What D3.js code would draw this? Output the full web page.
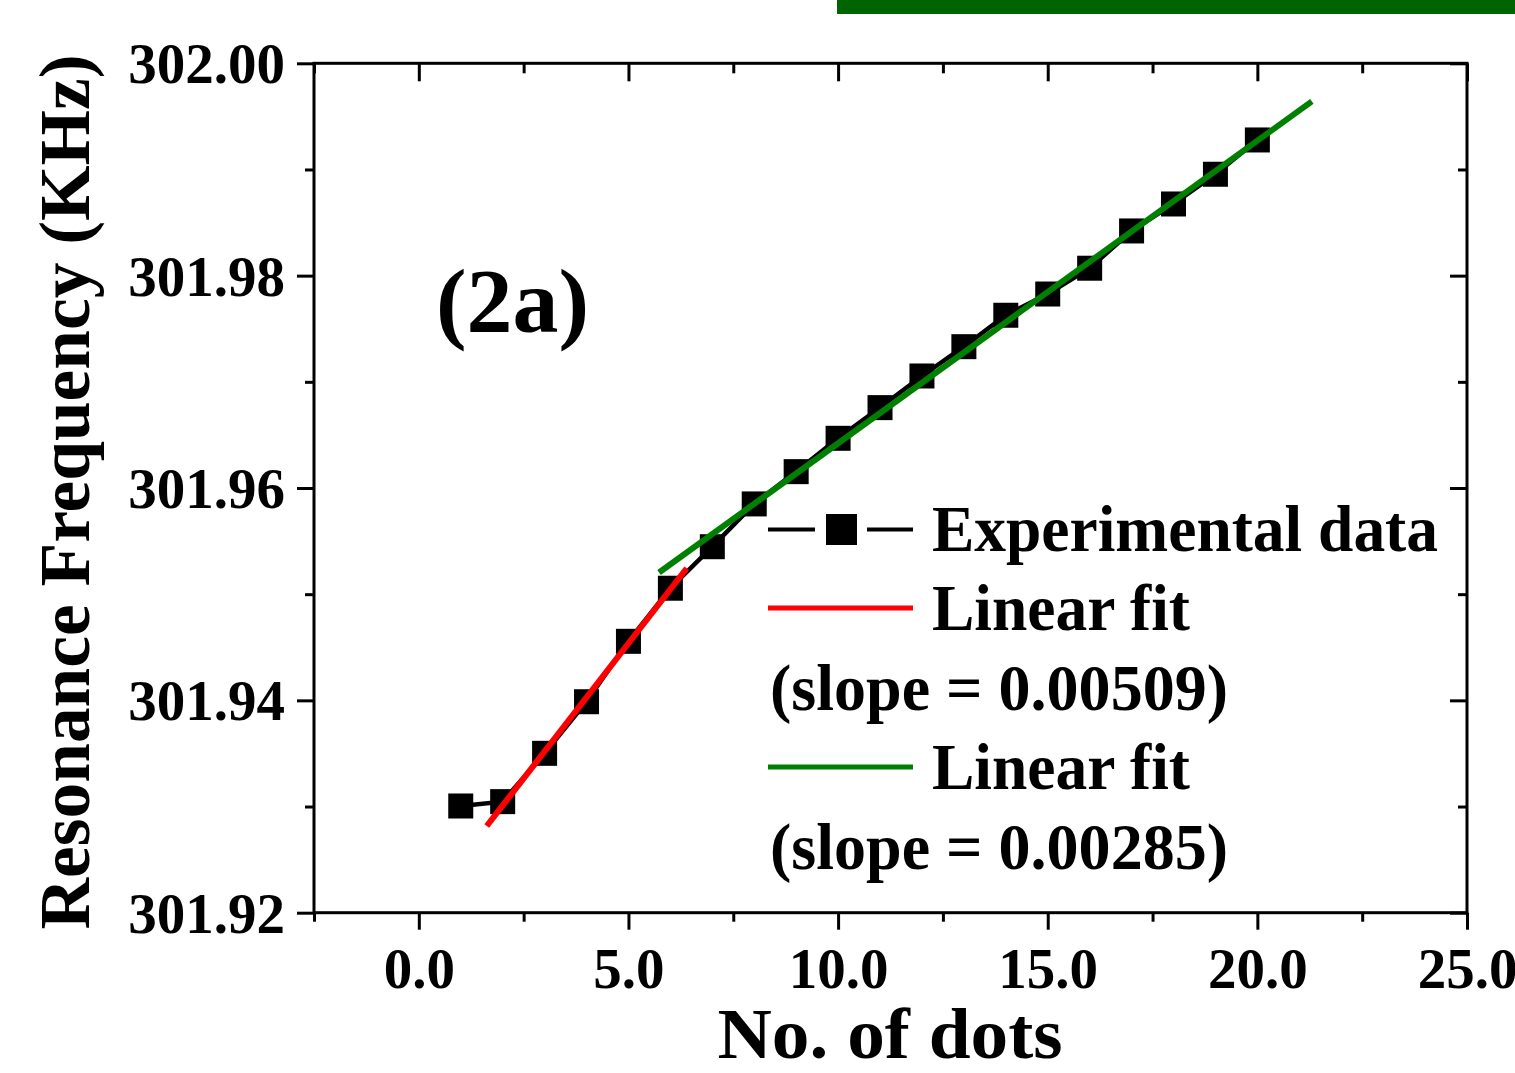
<!DOCTYPE html>
<html>
<head>
<meta charset="utf-8">
<script src="https://cdn.jsdelivr.net/npm/d3@7"></script>
<style>
  html, body { margin: 0; padding: 0; background: #fff; }
  svg { display: block; }
  text { font-family: "Liberation Serif", "Times New Roman", serif; font-weight: bold; fill: #000; }
</style>
</head>
<body>
<svg id="chart" width="1515" height="1073"></svg>
<script>
// ---- data ----
const dots = [1,2,3,4,5,6,7,8,9,10,11,12,13,14,15,16,17,18,19,20];
const freq = [301.93005,301.93046,301.93501,301.93987,301.94556,301.95056,301.95447,301.95850,
              301.96154,301.96468,301.96757,301.97055,301.97331,301.97627,301.97827,301.98070,
              301.98421,301.98675,301.98955,301.99278];
const fit1 = { slope: 0.00509, intercept: 301.91992, x0: 1.62, x1: 6.39 };
const fit2 = { slope: 0.00285, intercept: 301.93571, x0: 5.73, x1: 21.30 };
const xMajor = [0,5,10,15,20,25];
const xMinor = [-2.5,2.5,7.5,12.5,17.5,22.5];
const yMajor = [301.92,301.94,301.96,301.98,302.00];
const yMinor = [301.93,301.95,301.97,301.99];
const legendLabels = ["Experimental data","Linear fit","(slope = 0.00509)","Linear fit","(slope = 0.00285)"];

const svg = d3.select("#chart");
const L = 314, R = 1467, T = 63.3, B = 912.7;
const x = d3.scaleLinear().domain([-2.5, 25]).range([L, R]);
const y = d3.scaleLinear().domain([301.92, 302.00]).range([B, T]);

// decorative top bar
svg.append("rect").attr("x", 837).attr("y", 0).attr("width", 678).attr("height", 14).attr("fill", "#006400");

function styleAxis(g) {
  g.select(".domain").remove();
  g.selectAll(".tick line").attr("stroke", "#000").attr("stroke-width", 3);
}

// bottom axis: major + minor outward
const gxB = svg.append("g").attr("transform", `translate(0,${B})`)
  .call(d3.axisBottom(x).tickValues(xMajor).tickSize(17).tickPadding(18).tickFormat(d3.format(".1f")));
styleAxis(gxB);
gxB.selectAll(".tick text").attr("font-size", 57).attr("dy", "0.70em");
const gxBm = svg.append("g").attr("transform", `translate(0,${B})`)
  .call(d3.axisBottom(x).tickValues(xMinor).tickSize(9).tickFormat(""));
styleAxis(gxBm);

// top axis inward
const gxT = svg.append("g").attr("transform", `translate(0,${T})`)
  .call(d3.axisTop(x).tickValues(xMajor).tickSize(-18).tickFormat(""));
styleAxis(gxT);
const gxTm = svg.append("g").attr("transform", `translate(0,${T})`)
  .call(d3.axisTop(x).tickValues(xMinor).tickSize(-10).tickFormat(""));
styleAxis(gxTm);

// left axis outward
const gyL = svg.append("g").attr("transform", `translate(${L},0)`)
  .call(d3.axisLeft(y).tickValues(yMajor).tickSize(17).tickPadding(12).tickFormat(d3.format(".2f")));
styleAxis(gyL);
gyL.selectAll(".tick text").attr("font-size", 57).attr("dy", "0.34em");
const gyLm = svg.append("g").attr("transform", `translate(${L},0)`)
  .call(d3.axisLeft(y).tickValues(yMinor).tickSize(9).tickFormat(""));
styleAxis(gyLm);

// right axis inward
const gyR = svg.append("g").attr("transform", `translate(${R},0)`)
  .call(d3.axisRight(y).tickValues(yMajor).tickSize(-17).tickFormat(""));
styleAxis(gyR);
const gyRm = svg.append("g").attr("transform", `translate(${R},0)`)
  .call(d3.axisRight(y).tickValues(yMinor).tickSize(-9).tickFormat(""));
styleAxis(gyRm);

// frame
svg.append("rect").attr("x", L).attr("y", T).attr("width", R - L).attr("height", B - T)
  .attr("fill", "none").attr("stroke", "#000").attr("stroke-width", 3);

// data line
const pts = dots.map((d, i) => [d, freq[i]]);
svg.append("path").datum(pts)
  .attr("d", d3.line().x(d => x(d[0])).y(d => y(d[1])))
  .attr("fill", "none").attr("stroke", "#000").attr("stroke-width", 4.5);

// markers
const ms = 25;
svg.append("g").selectAll("rect").data(pts).join("rect")
  .attr("x", d => x(d[0]) - ms / 2).attr("y", d => y(d[1]) - ms / 2)
  .attr("width", ms).attr("height", ms).attr("fill", "#000");

// fit lines
function fitLine(f, color) {
  const seg = [f.x0, f.x1].map(v => [v, f.intercept + f.slope * v]);
  svg.append("path").datum(seg)
    .attr("d", d3.line().x(d => x(d[0])).y(d => y(d[1])))
    .attr("fill", "none").attr("stroke", color).attr("stroke-width", 6);
}
fitLine(fit1, "#ff0000");
fitLine(fit2, "#008000");

// panel label
svg.append("text").attr("x", 436).attr("y", 332).attr("font-size", 92)
  .attr("textLength", 153).attr("lengthAdjust", "spacingAndGlyphs").text("(2a)");

// legend
const lg = svg.append("g");
lg.append("line").attr("x1", 768).attr("x2", 815).attr("y1", 529.5).attr("y2", 529.5).attr("stroke", "#000").attr("stroke-width", 4);
lg.append("line").attr("x1", 867).attr("x2", 913).attr("y1", 529.5).attr("y2", 529.5).attr("stroke", "#000").attr("stroke-width", 4);
lg.append("rect").attr("x", 826).attr("y", 514).attr("width", 31).attr("height", 31).attr("fill", "#000");
lg.append("line").attr("x1", 768).attr("x2", 913).attr("y1", 608).attr("y2", 608).attr("stroke", "#ff0000").attr("stroke-width", 5);
lg.append("line").attr("x1", 768).attr("x2", 913).attr("y1", 767).attr("y2", 767).attr("stroke", "#008000").attr("stroke-width", 5);

const legendPos = [[932, 551, 506], [932, 630, 258], [770, 710, 458], [932, 789, 258], [770, 869, 458]];
legendLabels.forEach((t, i) => {
  const [lx, ly, w] = legendPos[i];
  lg.append("text").attr("x", lx).attr("y", ly).attr("font-size", 66)
    .attr("textLength", w).attr("lengthAdjust", "spacingAndGlyphs").text(t);
});

// axis titles
svg.append("text").attr("x", 890).attr("y", 1058).attr("text-anchor", "middle")
  .attr("font-size", 72).attr("textLength", 345).attr("lengthAdjust", "spacingAndGlyphs").text("No. of dots");
svg.append("text").attr("transform", "translate(89,492) rotate(-90)").attr("text-anchor", "middle")
  .attr("font-size", 72).attr("textLength", 875).attr("lengthAdjust", "spacingAndGlyphs").text("Resonance Frequency (KHz)");
</script>
</body>
</html>
